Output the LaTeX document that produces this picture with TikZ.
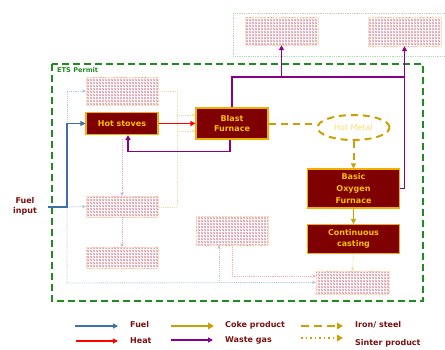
\documentclass[tikz,border=0pt]{standalone}
\usepackage{fontspec}
\setmainfont{DejaVu Sans}
\usetikzlibrary{arrows.meta,patterns,shapes.geometric}
\definecolor{boxred}{HTML}{7F0000}
\definecolor{boxgold}{HTML}{F0B000}
\definecolor{txtgold}{HTML}{F5C000}
\definecolor{coke}{HTML}{CCA000}
\definecolor{fuelblue}{HTML}{3D6FA8}
\definecolor{wgas}{HTML}{880088}
\definecolor{ets}{HTML}{1E8C1E}
\definecolor{lbl}{HTML}{7A1010}
\definecolor{hatchc}{HTML}{C98898}
\definecolor{hatchg}{HTML}{E8C0C8}
\begin{document}
\begin{tikzpicture}[x=1pt,y=-1pt,
  proc/.style={draw=boxgold, fill=boxred, line width=1.1pt, text=txtgold,
    font=\fontsize{8}{10.5}\selectfont\bfseries, align=center, inner sep=0pt},
  hatchbox/.style={draw=orange!30, densely dotted, preaction={pattern=grid, pattern color=hatchg},
    pattern=crosshatch dots, pattern color=hatchc, inner sep=0pt},
  tip/.style={-{Triangle[length=5pt,width=5pt]}},
  fuel/.style={tip, draw=fuelblue, line width=1.8pt},
  heat/.style={tip, draw=red, line width=1.8pt},
  wgas/.style={tip, draw=wgas, line width=1.8pt},
  wgline/.style={draw=wgas, line width=1.8pt},
  iron/.style={tip, draw=coke, line width=2pt, dash pattern=on 7pt off 5pt},
  cokeline/.style={tip, draw=coke, line width=1.8pt},
  faint/.style={densely dotted, line width=0.9pt, -{Stealth[length=3.5pt,width=3.5pt]}},
  legtxt/.style={anchor=west, text=lbl, font=\fontsize{8}{9}\selectfont\bfseries, inner sep=0pt},
  legtip/.style={-{Triangle[length=6pt,width=6.5pt]}, line width=2.2pt}
]
\useasboundingbox (0,0) rectangle (445,349);

% frames
\draw[green!45!gray!45, densely dotted, line width=0.8pt] (233,13) rectangle (447,56);
\draw[ets, line width=1.8pt, dash pattern=on 7pt off 4pt] (52,64) rectangle (423,301);
\node[anchor=west, text=ets, font=\fontsize{6.6}{7}\selectfont\bfseries, inner sep=0pt] (etslbl) at (57,70) {ETS Permit};

% faded boxes
\node[hatchbox, minimum width=73pt, minimum height=28pt] (t1) at (281.5,31) {};
\node[hatchbox, minimum width=73pt, minimum height=29pt] (t2) at (404.5,31.5) {};
\node[hatchbox, minimum width=72pt, minimum height=28pt] (h1) at (122,91) {};
\node[hatchbox, minimum width=72pt, minimum height=21pt] (h2) at (122,206.5) {};
\node[hatchbox, minimum width=72pt, minimum height=21pt] (h3) at (122,257.5) {};
\node[hatchbox, minimum width=72pt, minimum height=29pt] (h4) at (232,230.5) {};
\node[hatchbox, minimum width=73pt, minimum height=23pt] (h5) at (352.5,282.5) {};

% process boxes
\node[proc, minimum width=72pt, minimum height=22pt] (hs) at (122,123.5) {Hot stoves};
\node[proc, minimum width=72pt, minimum height=31pt] (bf) at (232,123.5) {Blast\\Furnace};
\node[draw=coke, line width=2pt, dash pattern=on 7pt off 5pt, ellipse, minimum width=72pt, minimum height=25pt,
      text=txtgold!55, font=\fontsize{8}{9}\selectfont, inner sep=0pt] (hm) at (353.5,127.5) {Hot Metal};
\node[proc, minimum width=92pt, minimum height=39pt, font=\fontsize{8}{12}\selectfont\bfseries] (bof) at (353.5,188.5) {Basic\\Oxygen\\Furnace};
\node[proc, minimum width=92pt, minimum height=29pt] (cc) at (353.5,239) {Continuous\\casting};

\node[text=lbl, font=\fontsize{8}{10}\selectfont\bfseries, align=center, inner sep=0pt] (fuelin) at (25,206) {Fuel\\input};

% junction coordinates
\coordinate (fin) at (48,207);
\coordinate (fj) at (67,207);
\coordinate (fb) at (67,283);
\coordinate (fbr) at (219,283);
\coordinate (wj1) at (232,77);
\coordinate (wj2) at (281.5,77);
\coordinate (wj3) at (404.5,77);
\coordinate (wj4) at (404.5,188.5);
\coordinate (gj1) at (177,91);
\coordinate (gj2) at (177,207);
\coordinate (gj3) at (177,115);
\coordinate (gj4) at (177,131);
\coordinate (pj1) at (122,139);
\coordinate (rj1) at (232,276);

% faint connectors
\draw[faint, fuelblue!40] (fj) |- (h1.west);
\draw[faint, fuelblue!40] (fj) -- (h2.west);
\draw[faint, fuelblue!40] (fj) -- (fb) -- (h5.west);
\draw[faint, fuelblue!40] (fbr) -- (h4.south -| fbr);
\draw[faint, red!35] (h4.south) -- (rj1) -- (rj1 -| h5.west);
\draw[faint, wgas!35] (pj1) -- (h2.north);
\draw[faint, wgas!35] (h2.south) -- (h3.north);
\draw[faint, coke!35, -] (h1.east) -- (gj1) -- (gj2) -- (h2.east |- gj2);
\draw[faint, coke!35] (gj3) -- (gj3 -| bf.west);
\draw[faint, coke!35] (gj4) -- (gj4 -| bf.west);
\draw[faint, coke!35] (cc.south) -- (h5.north);

% main connectors
\draw[fuel] (fin) -- (fj) |- (hs.west);
\draw[heat] (hs.east) -- (bf.west);
\draw[wgas] ([xshift=-2pt]bf.south) -- ++(0,12) -| ([xshift=6pt]hs.south);
\draw[wgline] (bf.north) -- (wj1) -- (wj3);
\draw[wgas] (wj2) -- (t1.south);
\draw[wgas] (bof.east) -- (wj4) -- (t2.south);
\draw[iron, -] (bf.east) -- (hm.west |- bf.east);
\draw[iron] (hm.south) -- (bof.north);
\draw[cokeline] (bof.south) -- (cc.north);

% legend
\coordinate (l1a) at (75,326);  \coordinate (l1b) at (118,326);
\coordinate (l2a) at (76,341);  \coordinate (l2b) at (118,341);
\coordinate (l3a) at (171,326); \coordinate (l3b) at (214,326);
\coordinate (l4a) at (171,340); \coordinate (l4b) at (213,340);
\coordinate (l5a) at (301,326); \coordinate (l5b) at (343,326);
\coordinate (l6a) at (301,338); \coordinate (l6b) at (343,338);
\draw[fuel] (l1a) -- (l1b);
\draw[heat] (l2a) -- (l2b);
\draw[legtip, draw=coke] (l3a) -- (l3b);
\draw[wgas] (l4a) -- (l4b);
\draw[legtip, draw=coke, dash pattern=on 8pt off 5pt] (l5a) -- (l5b);
\draw[legtip, draw=coke, line width=1.5pt, dash pattern=on 1.5pt off 3pt] (l6a) -- (l6b);
\node[legtxt] (lt1) at (130,325) {Fuel};
\node[legtxt] (lt2) at (130,341) {Heat};
\node[legtxt] (lt3) at (225,325) {Coke product};
\node[legtxt] (lt4) at (225,340) {Waste gas};
\node[legtxt] (lt5) at (355,325) {Iron/ steel};
\node[legtxt] (lt6) at (355,343) {Sinter product};
\end{tikzpicture}
\end{document}
